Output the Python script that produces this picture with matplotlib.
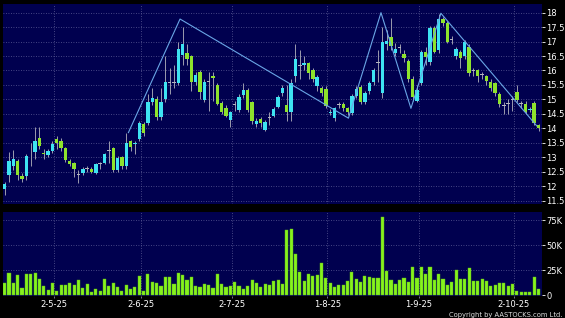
import matplotlib
matplotlib.use('Agg')
import matplotlib.pyplot as plt
import numpy as np

# ---------------- data ----------------
opens = [11.90, 12.38, 12.70, 12.87, 12.36, 12.36, 13.20, 13.19, 13.66, 13.14,
         13.08, 13.22, 13.64, 13.57, 13.31, 12.87, 12.81, 12.40, 12.46, 12.61,
         12.60, 12.46, 12.78, 12.79, 13.24, 13.31, 12.56, 13.02, 12.69, 13.55,
         13.45, 13.62, 14.15, 14.17, 14.90, 15.00, 14.40, 15.01, 15.60, 15.58,
         15.58, 16.54, 16.60, 16.50, 15.61, 15.93, 14.98, 15.60, 15.82, 15.49,
         14.89, 14.69, 14.29, 14.83, 14.63, 15.15, 15.33, 14.92, 14.15, 14.31,
         13.94, 14.37, 14.43, 14.75, 15.21, 14.81, 14.57, 15.81, 16.16, 16.19,
         16.25, 16.00, 15.46, 15.38, 15.35, 14.52, 14.35, 14.81, 14.84, 14.69,
         14.52, 15.13, 15.44, 14.92, 15.30, 15.61, 16.27, 15.21, 16.91, 17.15,
         16.62, 16.79, 16.57, 16.33, 15.70, 14.96, 15.56, 16.65, 16.30, 17.48,
         16.71, 17.78, 17.63, 17.06, 16.50, 16.65, 16.50, 16.82, 16.02, 16.02,
         15.88, 15.81, 15.61, 15.58, 15.19, 14.81, 14.84, 15.01, 15.25, 14.84,
         14.84, 14.62, 14.87, 14.11]
closes = [12.07, 12.87, 12.94, 12.38, 12.23, 13.04, 13.22, 13.57, 13.40, 13.12,
          13.22, 13.46, 13.50, 13.31, 12.90, 12.75, 12.58, 12.39, 12.58, 12.60,
          12.50, 12.76, 12.79, 13.10, 13.23, 12.56, 12.98, 12.69, 13.50, 13.35,
          13.50, 14.19, 13.83, 14.90, 15.04, 14.40, 14.91, 15.61, 15.59, 15.59,
          16.74, 16.90, 16.39, 15.61, 15.84, 15.27, 15.61, 15.61, 15.73, 14.84,
          14.57, 14.43, 14.57, 14.82, 15.09, 15.33, 14.63, 14.26, 14.26, 14.17,
          14.23, 14.36, 14.67, 15.09, 15.38, 14.57, 15.56, 16.39, 16.17, 16.27,
          15.90, 15.70, 15.79, 15.23, 14.77, 14.57, 14.69, 14.82, 14.69, 14.57,
          15.13, 15.35, 14.92, 15.21, 15.58, 16.00, 16.28, 17.00, 17.03, 16.86,
          16.73, 16.80, 16.42, 15.70, 15.09, 15.33, 16.65, 16.46, 17.48, 16.65,
          17.78, 17.65, 17.00, 17.05, 16.73, 16.42, 17.00, 15.90, 16.01, 15.81,
          15.87, 15.65, 15.38, 15.21, 14.84, 14.80, 14.85, 15.00, 14.98, 14.85,
          14.57, 14.68, 14.17, 14.00]
highs = [12.15, 13.19, 13.25, 12.95, 12.45, 13.10, 13.50, 14.05, 14.05, 13.30,
         13.30, 13.55, 13.75, 13.65, 13.35, 12.95, 12.85, 12.55, 12.65, 12.70,
         12.65, 12.80, 12.85, 13.15, 13.55, 13.35, 13.05, 13.05, 13.85, 13.60,
         13.55, 14.25, 14.20, 15.20, 15.40, 15.10, 15.40, 16.50, 16.10, 16.20,
         17.00, 17.50, 16.90, 16.55, 15.95, 16.00, 15.70, 15.95, 15.95, 15.55,
         14.95, 14.80, 14.60, 14.95, 15.20, 15.55, 15.40, 14.95, 14.35, 14.40,
         14.30, 14.55, 14.75, 15.15, 15.50, 15.50, 15.70, 16.90, 16.70, 16.50,
         16.30, 16.10, 15.85, 15.45, 15.45, 14.65, 14.75, 14.90, 14.90, 14.75,
         15.20, 15.45, 15.50, 15.30, 15.65, 16.10, 16.70, 17.50, 17.40, 17.80,
         16.95, 16.90, 16.70, 16.40, 15.80, 15.50, 16.70, 16.80, 17.55, 17.55,
         17.95, 17.85, 17.70, 17.20, 16.80, 16.70, 17.05, 16.90, 16.10, 16.05,
         15.95, 15.85, 15.70, 15.60, 15.25, 14.90, 15.00, 15.10, 15.50, 14.95,
         14.95, 14.75, 14.95, 14.15]
lows = [11.70, 12.15, 12.55, 12.20, 12.15, 12.20, 12.70, 12.95, 13.30, 12.95,
        13.00, 13.15, 13.30, 13.20, 12.85, 12.70, 12.30, 12.10, 12.40, 12.50,
        12.45, 12.42, 12.60, 12.75, 12.80, 12.50, 12.50, 12.60, 12.60, 13.20,
        13.10, 13.55, 13.75, 14.10, 14.80, 14.30, 14.30, 14.90, 15.20, 15.40,
        15.50, 16.20, 16.20, 15.30, 15.50, 15.00, 14.90, 14.60, 14.95, 14.80,
        14.50, 14.40, 14.05, 14.60, 14.55, 15.05, 14.55, 14.15, 14.05, 14.05,
        13.90, 14.10, 14.40, 14.70, 15.10, 14.25, 14.25, 15.60, 15.70, 16.00,
        15.70, 15.60, 15.30, 15.10, 14.70, 14.45, 14.25, 14.70, 14.60, 14.45,
        14.45, 15.05, 14.85, 14.85, 15.20, 15.50, 15.60, 15.05, 16.70, 16.70,
        16.50, 16.60, 16.30, 15.60, 14.95, 14.90, 15.50, 16.20, 16.20, 16.60,
        16.60, 17.55, 16.95, 16.90, 16.40, 16.10, 16.40, 15.80, 15.80, 15.60,
        15.70, 15.50, 15.30, 15.10, 14.75, 14.50, 14.50, 14.60, 14.90, 14.70,
        14.50, 14.55, 14.10, 13.90]
volumes_k = [12, 22.5, 12.6, 20, 7, 21, 21, 22.5, 16, 9.5,
             5.5, 12, 4, 10, 10, 12, 10, 15.5, 7.5, 11,
             3, 6, 4.5, 16.5, 9.5, 12.6, 8, 4.5, 10.7, 5.8,
             8, 19, 4.2, 21, 13.5, 12.3, 9.5, 18, 18, 11,
             22.5, 20, 15.5, 18, 9, 8.5, 11.3, 10.7, 7, 21.5,
             11.3, 8.7, 9.5, 13, 9.5, 6.7, 9.5, 15, 12.6, 8.7,
             11, 10.7, 14, 15.5, 11.6,
             65, 65.7, 41, 23.5, 14.5, 21, 19, 20.5, 32, 17,
             12.6, 8, 10.5, 10.2, 14, 23.5, 16, 13.5, 19, 18.5,
             17.5, 17, 78, 24, 15, 11, 15, 17.5, 13.5, 28.5,
             17.5, 28, 21, 28, 15, 21, 16, 10.2, 13.5, 25,
             16.5, 16, 27.5, 14, 14, 16.5, 14.5, 9.5, 10.2, 12.6,
             12.6, 9.5, 11, 4.5, 3.7, 3.7, 3, 18.5, 6.5]
date_labels = ['2-5-25', '2-6-25', '2-7-25', '1-8-25', '1-9-25', '2-10-25']
date_index = [11, 31, 52, 74, 95, 117]
trend_x = [28.5, 40.4, 79.2, 86.7, 93.6, 100.5, 122.6]
trend_y = [13.85, 17.78, 14.35, 18.00, 14.69, 17.98, 14.08]
price_ticks = [11.5, 12, 12.5, 13, 13.5, 14, 14.5, 15, 15.5, 16, 16.5, 17, 17.5, 18]
price_tick_labels = ['11.5', '12', '12.5', '13', '13.5', '14', '14.5', '15',
                     '15.5', '16', '16.5', '17', '17.5', '18']
vol_ticks_k = [0, 25, 50, 75]
vol_tick_labels = ['0', '25K', '50K', '75K']

# ---------------- styling ----------------
W, H = 565, 318
BG = '#000000'
PANEL = '#00004f'
UP = '#3ee3f2'
DOWN = '#8ee32c'
DOJI = '#b4b4c0'
WICK = '#9c9cae'
VOLC = '#86f21e'
GRID = '#5c5c96'
TXT = '#ffffff'

fig = plt.figure(figsize=(W / 100, H / 100), dpi=100, facecolor=BG)
left = 3 / W
width = (541.7 - 3) / W
axp = fig.add_axes([left, 1 - 204 / H, width, 200 / H], facecolor=PANEL)
axv = fig.add_axes([left, 1 - 296 / H, width, 84 / H], facecolor=PANEL)

n = len(opens)
idx = np.arange(n)
o = np.array(opens); c = np.array(closes)
hi = np.array(highs); lo = np.array(lows)
grid_pos = [d + 0.35 for d in date_index]

for ax in (axp, axv):
    for s in ax.spines.values():
        s.set_visible(False)
    ax.set_xlim(-0.39, 123.73)
    for g in grid_pos:
        ax.axvline(g, color=GRID, lw=0.6, ls=(0, (1, 2)), zorder=0)

# price panel
for t in price_ticks:
    axp.axhline(t, color=GRID, lw=0.6, ls=(0, (1, 2)), zorder=0)
axp.vlines(idx, lo, hi, color=WICK, lw=0.7, zorder=1)
diff = c - o
doji = np.abs(diff) < 0.02
colors = np.where(doji, DOJI, np.where(diff > 0, UP, DOWN))
bottoms = np.minimum(o, c)
heights = np.where(doji, 0.035, np.abs(diff))
bottoms = np.where(doji, (o + c) / 2 - 0.0175, bottoms)
axp.bar(idx, heights, bottom=bottoms, width=0.78, color=colors, edgecolor='none', zorder=2)
axp.plot(trend_x, trend_y, color='#6aa6e6', lw=0.8, zorder=3)
axp.set_ylim(11.38, 18.30)
axp.yaxis.tick_right()
axp.set_yticks(price_ticks)
axp.set_yticklabels(price_tick_labels)
axp.set_xticks([])
axp.tick_params(axis='y', colors=TXT, labelsize=6, length=2, width=0.6, pad=1.5)

# volume panel
for t in vol_ticks_k[1:]:
    axv.axhline(t * 1000, color=GRID, lw=0.6, ls=(0, (1, 2)), zorder=0)
vols = np.array(volumes_k) * 1000
axv.bar(idx, vols, width=0.72, color=VOLC, edgecolor='#5cb814', linewidth=0.3, zorder=2)
axv.set_ylim(-700, 83000)
axv.yaxis.tick_right()
axv.set_yticks([v * 1000 for v in vol_ticks_k])
axv.set_yticklabels(vol_tick_labels)
axv.set_xticks(grid_pos)
axv.set_xticklabels(date_labels)
axv.tick_params(axis='y', colors=TXT, labelsize=6, length=2, width=0.6, pad=1.5)
axv.tick_params(axis='x', colors='#8888aa', labelcolor=TXT, labelsize=6, length=1.5, width=0.6, pad=1.2)

fig.text(0.995, 0.0, 'Copyright by AASTOCKS.com Ltd.', ha='right', va='bottom',
         fontsize=4.9, color='#e0e0e0')

fig.savefig('out.png', dpi=100, facecolor=BG)
